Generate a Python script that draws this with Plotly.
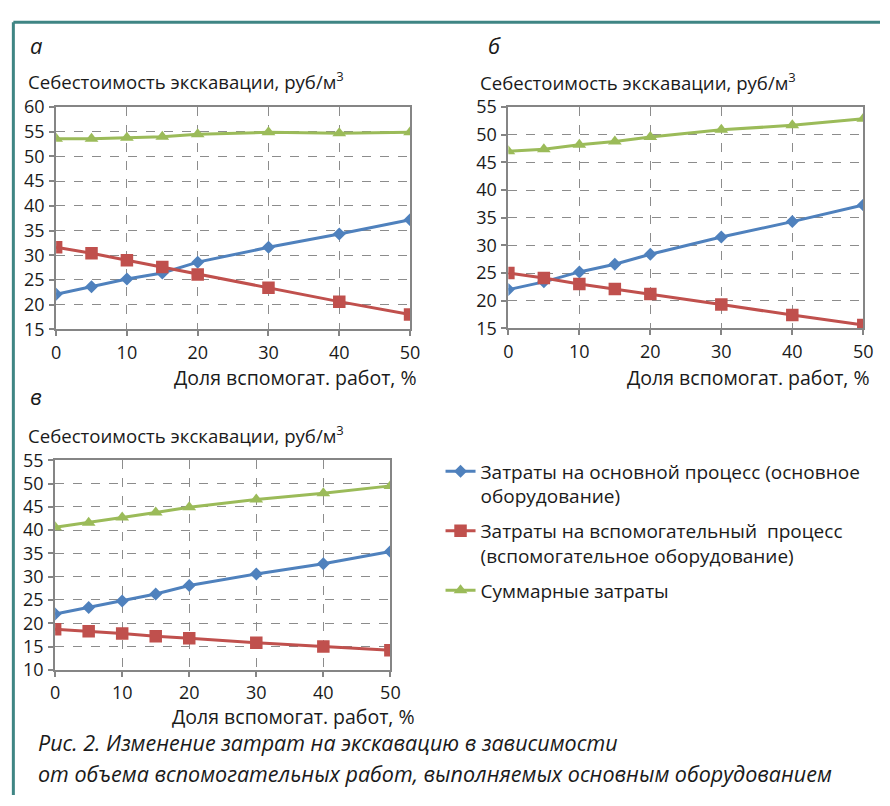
import plotly.graph_objects as go

W, H = 890, 806

# Share of auxiliary work performed by the main equipment, %
x_pct = [0, 5, 10, 15, 20, 30, 40, 50]

# Panel "а"
a_main = [22.1, 23.6, 25.2, 26.4, 28.6, 31.6, 34.3, 37.2]
a_aux = [31.6, 30.4, 29.0, 27.6, 26.1, 23.4, 20.6, 18.0]
a_total = [53.6, 53.6, 53.8, 54.0, 54.5, 54.9, 54.7, 54.9]

# Panel "б"
b_main = [22.0, 23.4, 25.2, 26.6, 28.4, 31.5, 34.3, 37.3]
b_aux = [25.0, 24.1, 23.0, 22.1, 21.2, 19.3, 17.4, 15.6]
b_total = [47.0, 47.4, 48.2, 48.8, 49.6, 50.9, 51.7, 52.9]

# Panel "в"
c_main = [22.0, 23.4, 24.8, 26.3, 28.1, 30.6, 32.8, 35.4]
c_aux = [18.7, 18.3, 17.8, 17.2, 16.8, 15.8, 15.0, 14.2]
c_total = [40.6, 41.6, 42.7, 43.8, 44.9, 46.6, 47.9, 49.5]

x_ticks = [0, 10, 20, 30, 40, 50]
a_yrange = [15, 60]
b_yrange = [15, 55]
c_yrange = [10, 55]

series_names = [
    "Затраты на основной процесс (основное<br>оборудование)",
    "Затраты на вспомогательный  процесс<br>(вспомогательное оборудование)",
    "Суммарные затраты",
]
panel_letters = ["а", "б", "в"]
y_title = "Себестоимость экскавации, руб/м<sup>3</sup>"
x_title = "Доля вспомогат. работ, %"
caption_lines = [
    "Рис. 2. Изменение затрат на экскавацию в зависимости",
    "от объема вспомогательных работ, выполняемых основным оборудованием",
]

COLORS = ["#4F81BD", "#C0504D", "#9BBB59"]
SYMBOLS = ["diamond", "square", "triangle-up"]
SIZES = [10, 12.5, 12]
FONT = "Open Sans, Noto Sans, DejaVu Sans, sans-serif"
TEXT = "#1a1a1a"


def fx(px):
    return px / W


def fy(py):
    return 1 - py / H


fig = go.Figure()

# plot-area boxes in pixels: (left, top, right, bottom)
panels = [
    dict(box=(52, 97, 412, 326), data=(a_main, a_aux, a_total), yr=a_yrange, ax=""),
    dict(box=(512, 97, 873, 325), data=(b_main, b_aux, b_total), yr=b_yrange, ax="2"),
    dict(box=(51, 461, 392, 677), data=(c_main, c_aux, c_total), yr=c_yrange, ax="3"),
]

for pi, p in enumerate(panels):
    l, t, r, b = p["box"]
    for si, ys in enumerate(p["data"]):
        fig.add_trace(go.Scatter(
            x=x_pct, y=ys, mode="lines+markers",
            name=series_names[si],
            legendgroup=f"s{si}",
            showlegend=(pi == 0),
            line=dict(color=COLORS[si], width=3),
            marker=dict(symbol=SYMBOLS[si], size=SIZES[si], color=COLORS[si],
                        line=dict(width=0)),
            xaxis="x" + p["ax"], yaxis="y" + p["ax"],
        ))
    common = dict(
        showline=True, linecolor="#858585", linewidth=2, mirror=True,
        showgrid=True, gridcolor="#8c8c8c", gridwidth=1.3, griddash="dash",
        zeroline=False, ticks="outside", ticklen=5, tickwidth=1.5,
        tickcolor="#858585",
        tickfont=dict(family=FONT, size=18, color=TEXT),
    )
    fig.layout["xaxis" + p["ax"]] = dict(
        domain=[fx(l), fx(r)], range=[0, 50], tickvals=x_ticks,
        anchor="y" + p["ax"], ticklabelstandoff=1, **common)
    fig.layout["yaxis" + p["ax"]] = dict(
        domain=[fy(b), fy(t)], range=p["yr"], dtick=5,
        anchor="x" + p["ax"], ticklabelstandoff=1, **common)

annotations = []
# panel letters
for letter, (x, y) in zip(panel_letters, [(23, 33), (489, 33), (23, 395)]):
    annotations.append(dict(text=f"<i>{letter}</i>", x=fx(x), y=fy(y),
                            xanchor="left", yanchor="middle",
                            font=dict(family=FONT, size=22, color=TEXT)))
# y-axis titles
for x, y in [(21, 70), (481, 71), (21, 434)]:
    annotations.append(dict(text=y_title, x=fx(x), y=fy(y),
                            xanchor="left", yanchor="middle",
                            font=dict(family=FONT, size=18.6, color=TEXT)))
# x-axis titles
for x, y in [(421, 376), (882, 376), (419, 725)]:
    annotations.append(dict(text=x_title, x=fx(x), y=fy(y),
                            xanchor="right", yanchor="middle",
                            font=dict(family=FONT, size=19.5, color=TEXT)))
# caption
for line, y in zip(caption_lines, [752, 784]):
    annotations.append(dict(text=f"<i>{line}</i>", x=fx(32), y=fy(y),
                            xanchor="left", yanchor="middle",
                            font=dict(family=FONT, size=21.5, color=TEXT)))
for a in annotations:
    a.update(xref="paper", yref="paper", showarrow=False)

# teal frame (top and left edges)
shapes = [
    dict(type="line", xref="paper", yref="paper", x0=fx(8.5), x1=1.0,
         y0=fy(9.5), y1=fy(9.5), line=dict(color="#3F8584", width=3)),
    dict(type="line", xref="paper", yref="paper", x0=fx(8.5), x1=fx(8.5),
         y0=fy(9.5), y1=0, line=dict(color="#3F8584", width=3)),
]

fig.update_layout(
    width=W, height=H, margin=dict(l=0, r=0, t=0, b=0),
    paper_bgcolor="white", plot_bgcolor="white",
    annotations=annotations, shapes=shapes,
    legend=dict(x=fx(443), y=fy(453), xanchor="left", yanchor="top",
                font=dict(family=FONT, size=19, color=TEXT),
                tracegroupgap=7, valign="top", itemwidth=30,
                bgcolor="rgba(0,0,0,0)"),
)

fig.write_html("out.html")
